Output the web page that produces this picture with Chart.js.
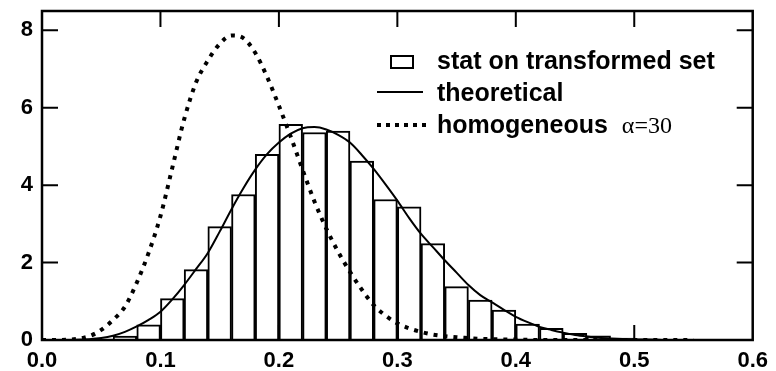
<!DOCTYPE html>
<html>
<head>
<meta charset="utf-8">
<script src="https://cdn.jsdelivr.net/npm/chart.js@4.4.1/dist/chart.umd.min.js"></script>
<style>
  html, body { margin: 0; padding: 0; background: #fff; }
  #wrap { width: 776px; height: 371px; position: relative; }
</style>
</head>
<body>
<div id="wrap"><canvas id="chart"></canvas></div>
<script>
// --- data ---
const binCenters = [0.01, 0.03, 0.05, 0.07, 0.09, 0.11, 0.13, 0.15, 0.17, 0.19,
                    0.21, 0.23, 0.25, 0.27, 0.29, 0.31, 0.33, 0.35, 0.37, 0.39,
                    0.41, 0.43, 0.45, 0.47, 0.49];
const binHeights = [0.01, 0.01, 0.02, 0.10, 0.39, 1.07, 1.82, 2.93, 3.76, 4.80,
                    5.57, 5.36, 5.40, 4.62, 3.63, 3.44, 2.49, 1.38, 1.03, 0.77,
                    0.41, 0.30, 0.17, 0.11, 0.05];

const curveX = [0.00, 0.01, 0.02, 0.03, 0.04, 0.05, 0.06, 0.07, 0.08, 0.09,
                0.10, 0.11, 0.12, 0.13, 0.14, 0.15, 0.16, 0.17, 0.18, 0.19,
                0.20, 0.21, 0.22, 0.23, 0.24, 0.25, 0.26, 0.27, 0.28, 0.29,
                0.30, 0.31, 0.32, 0.33, 0.34, 0.35, 0.36, 0.37, 0.38, 0.39,
                0.40, 0.41, 0.42, 0.43, 0.44, 0.45, 0.46, 0.47, 0.48, 0.49,
                0.50, 0.51, 0.52, 0.53, 0.54, 0.55, 0.56, 0.57, 0.58, 0.59, 0.60];
const theoretical = [0, 0, 0, 0.005, 0.02, 0.05, 0.11, 0.21, 0.35, 0.52,
                     0.73, 1.05, 1.42, 1.83, 2.25, 2.80, 3.38, 3.92, 4.40, 4.80,
                     5.10, 5.33, 5.47, 5.50, 5.44, 5.30, 5.10, 4.78, 4.42, 4.02,
                     3.60, 3.15, 2.74, 2.40, 2.06, 1.74, 1.42, 1.16, 0.97, 0.78,
                     0.60, 0.46, 0.34, 0.26, 0.19, 0.13, 0.09, 0.06, 0.04, 0.025,
                     0.015, 0.01, 0.005, 0, 0, 0, 0, 0, 0, 0, 0];
const homogeneous = [0, 0, 0.005, 0.03, 0.10, 0.26, 0.52, 0.86, 1.48, 2.25,
                     3.20, 4.45, 5.70, 6.65, 7.22, 7.65, 7.87, 7.80, 7.42, 6.80,
                     6.05, 5.25, 4.40, 3.58, 2.88, 2.28, 1.76, 1.30, 0.90, 0.63,
                     0.43, 0.30, 0.21, 0.14, 0.10, 0.07, 0.05, 0.03, 0.02, 0.015,
                     0.01, 0.005, 0, 0, 0, 0, 0, 0, 0, 0,
                     0, 0, 0, 0, 0, 0];

const xTicks = [0.0, 0.1, 0.2, 0.3, 0.4, 0.5, 0.6];
const yTicks = [0, 2, 4, 6, 8];

const seriesNames = ['stat on transformed set', 'theoretical', 'homogeneous'];
const alphaNote = 'α=30';

const legendFont = 'bold 25px "Liberation Sans", Arial, sans-serif';
const tickFont = { family: '"Liberation Sans", Arial, sans-serif', size: 22, weight: 'bold' };

// --- frame, inward ticks and legend ---
const framePlugin = {
    id: 'frame',
    afterDatasetsDraw(chart) {
        const { ctx, chartArea: a, scales: { x, y } } = chart;
        ctx.save();
        ctx.strokeStyle = '#000';
        ctx.lineWidth = 2.5;
        ctx.strokeRect(a.left, a.top, a.right - a.left, a.bottom - a.top);

        ctx.lineWidth = 2;
        ctx.beginPath();
        xTicks.slice(1, -1).forEach(v => {
            const px = x.getPixelForValue(v);
            ctx.moveTo(px, a.bottom); ctx.lineTo(px, a.bottom - 15);
            ctx.moveTo(px, a.top); ctx.lineTo(px, a.top + 16);
        });
        yTicks.slice(1).forEach(v => {
            const py = y.getPixelForValue(v);
            ctx.moveTo(a.left, py); ctx.lineTo(a.left + 16, py);
            ctx.moveTo(a.right, py); ctx.lineTo(a.right - 16, py);
        });
        ctx.stroke();

        // legend
        const textX = 437;
        const rows = [62, 94, 126];
        ctx.fillStyle = '#000';
        ctx.font = legendFont;
        ctx.textBaseline = 'middle';
        ctx.textAlign = 'left';
        seriesNames.forEach((name, i) => ctx.fillText(name, textX, rows[i]));
        const homW = ctx.measureText(seriesNames[2]).width;

        ctx.fillStyle = '#fff';
        ctx.lineWidth = 2;
        ctx.fillRect(391, 56, 22, 12);
        ctx.strokeRect(391, 56, 22, 12);

        ctx.beginPath();
        ctx.moveTo(377, 92); ctx.lineTo(423, 92);
        ctx.stroke();

        ctx.lineWidth = 4;
        ctx.setLineDash([4, 5]);
        ctx.beginPath();
        ctx.moveTo(377, 125); ctx.lineTo(426, 125);
        ctx.stroke();
        ctx.setLineDash([]);

        ctx.fillStyle = '#000';
        ctx.font = '24px "Liberation Serif", "Times New Roman", serif';
        ctx.fillText(alphaNote, textX + homW + 14, rows[2] + 1);
        ctx.restore();
    }
};

const ctx = document.getElementById('chart').getContext('2d');
new Chart(ctx, {
    type: 'bar',
    data: {
        datasets: [
            {
                type: 'line',
                label: seriesNames[2],
                data: homogeneous.map((v, i) => ({ x: curveX[i], y: v })),
                borderColor: '#000',
                borderWidth: 4,
                borderDash: [4, 6],
                pointRadius: 0,
                fill: false,
                cubicInterpolationMode: 'monotone',
                order: 1
            },
            {
                type: 'line',
                label: seriesNames[1],
                data: theoretical.map((v, i) => ({ x: curveX[i], y: v })),
                borderColor: '#000',
                borderWidth: 2,
                pointRadius: 0,
                fill: false,
                cubicInterpolationMode: 'monotone',
                order: 2
            },
            {
                type: 'bar',
                label: seriesNames[0],
                data: binCenters.map((c, i) => ({ x: c, y: binHeights[i] })),
                backgroundColor: '#fff',
                borderColor: '#000',
                borderWidth: 2,
                barPercentage: 1,
                categoryPercentage: 1,
                order: 3
            }
        ]
    },
    options: {
        responsive: true,
        maintainAspectRatio: false,
        animation: false,
        layout: { padding: { left: 0, top: 11, right: 18, bottom: 0 } },
        scales: {
            x: {
                type: 'linear',
                min: 0,
                max: 0.6,
                offset: false,
                grid: { display: false, drawTicks: false },
                border: { display: false },
                afterBuildTicks: s => { s.ticks = xTicks.map(v => ({ value: v })); },
                afterFit: s => { s.height = 31; },
                ticks: {
                    color: '#000',
                    font: tickFont,
                    padding: 8,
                    maxRotation: 0,
                    autoSkip: false,
                    callback: v => Number(v).toFixed(1)
                }
            },
            y: {
                min: 0,
                max: 8.5,
                grid: { display: false, drawTicks: false },
                border: { display: false },
                afterBuildTicks: s => { s.ticks = yTicks.map(v => ({ value: v })); },
                afterFit: s => { s.width = 42; s.paddingTop = 0; s.paddingBottom = 0; },
                ticks: {
                    color: '#000',
                    font: tickFont,
                    padding: 9
                }
            }
        },
        plugins: {
            legend: { display: false },
            tooltip: { enabled: false }
        }
    },
    plugins: [framePlugin]
});
</script>
</body>
</html>
